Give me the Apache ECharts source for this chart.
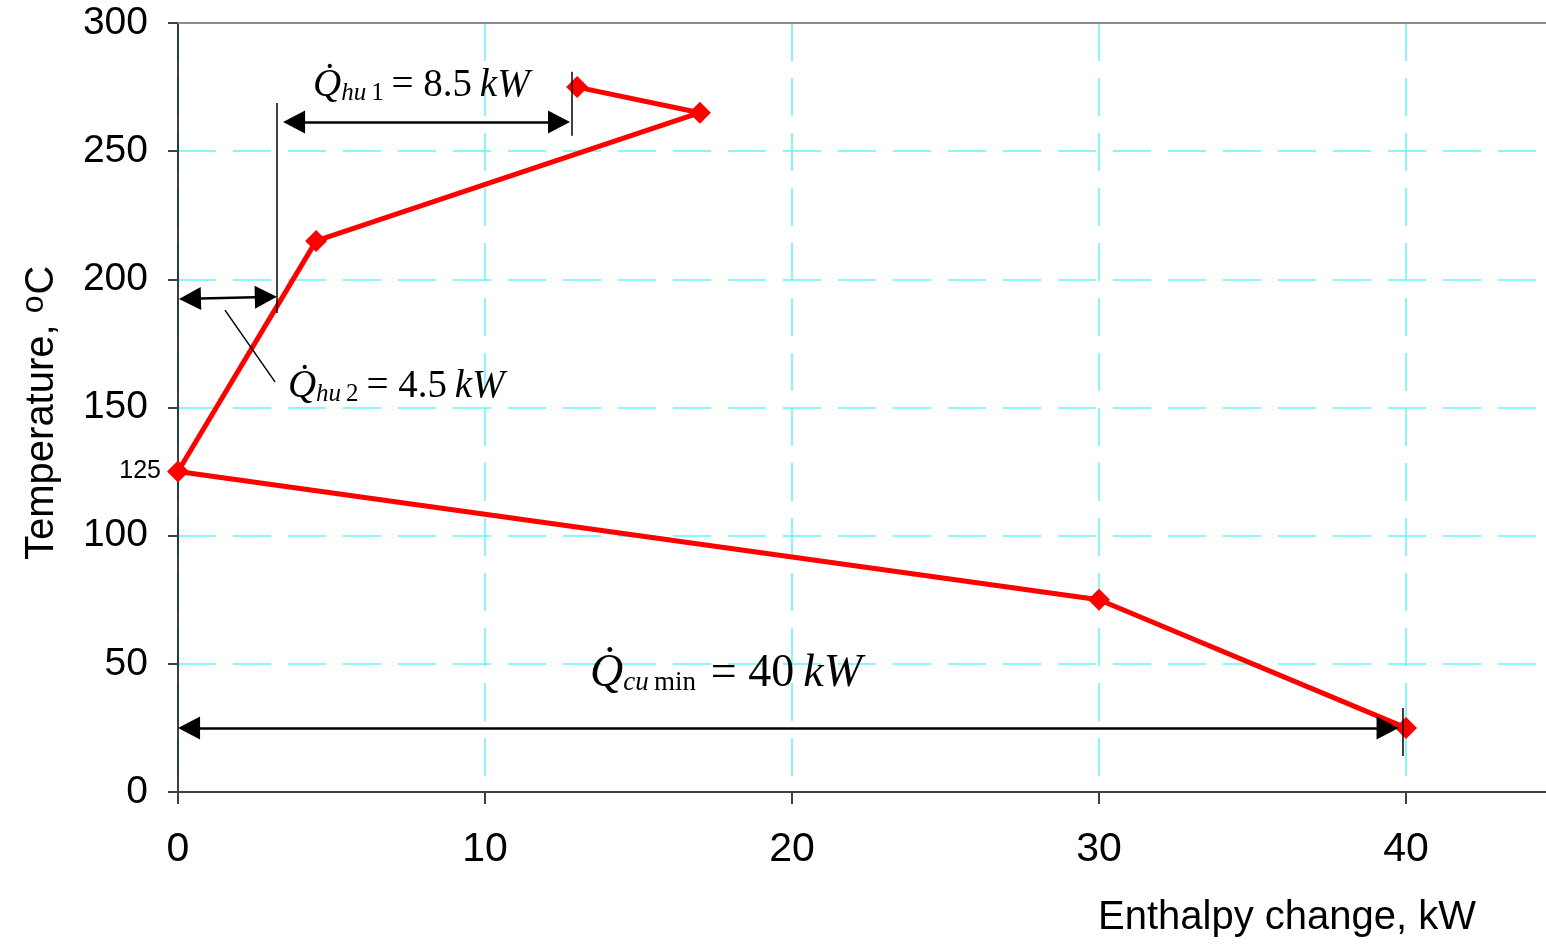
<!DOCTYPE html>
<html>
<head>
<meta charset="utf-8">
<script src="https://cdn.jsdelivr.net/npm/echarts@6/dist/echarts.min.js"></script>
<style>
  html, body { margin: 0; padding: 0; background: #fff; }
  #chart { width: 1546px; height: 944px; }
</style>
</head>
<body>
<div id="chart"></div>
<script>
// Grand composite curve: enthalpy change (kW) vs shifted temperature (°C)
const enthalpy    = [13, 17, 4.5, 0, 30, 40];
const temperature = [275, 265, 215, 125, 75, 25];

// Axis ticks
const xTickValues = [0, 10, 20, 30, 40];
const yTickValues = [0, 50, 100, 150, 200, 250, 300];
const pinchTemperature = 125;   // extra small label on the temperature axis
const yTop = 300;               // solid frame line along the top of the plot

// Utility loads
const hotUtility1 = 8.5;   // kW
const hotUtility2 = 4.5;   // kW
const coldUtility = 40;    // kW

// Annotation geometry (data units)
const hu1Arrow    = [[3.78, 261.4], [12.41, 261.4]];
const hu1BarLeft  = [[3.22, 268.8], [3.22, 186.9]];
const hu1BarRight = [[12.83, 281], [12.83, 256]];
const hu2Arrow    = [[0.39, 192.4], [2.86, 193.1]];
const hu2Leader   = [[1.53, 188], [3.16, 160]];
const cuArrow     = [[0.36, 25], [39.4, 25]];
const cuBar       = [[39.9, 32.8], [39.9, 14]];
const hu1LabelAt  = [4.40, 276];
const hu2LabelAt  = [3.58, 158.5];
const cuLabelAt   = [13.42, 47];

const serif = '"Liberation Serif", "Times New Roman", serif';
const sans  = '"Liberation Sans", Arial, sans-serif';

function richFor(main, sub, lh, subLh) {
  return {
    q: { fontFamily: serif, fontStyle: 'italic', fontSize: main, lineHeight: lh, color: '#000', verticalAlign: 'bottom' },
    s: { fontFamily: serif, fontStyle: 'italic', fontSize: sub, lineHeight: subLh, color: '#000', verticalAlign: 'bottom' },
    n: { fontFamily: serif, fontSize: sub, lineHeight: subLh, color: '#000', verticalAlign: 'bottom' },
    e: { fontFamily: serif, fontSize: main, lineHeight: lh, color: '#000', verticalAlign: 'bottom' },
    k: { fontFamily: serif, fontStyle: 'italic', fontSize: main, lineHeight: lh, color: '#000', verticalAlign: 'bottom' }
  };
}
const richHu = richFor(39, 25, 42, 17);
const richCu = richFor(46, 27, 50, 20);

function formula(sub, subNum, value) {
  return '{q|Q\u0307}{s|' + sub + '}{n|' + subNum + '}{e|\u2009= ' + value + '\u2009}{k|kW}';
}

function seg(pair, extra) {
  return [Object.assign({ coord: pair[0] }, extra || {}), { coord: pair[1] }];
}

const arrowLine = { color: '#000', width: 2.5, type: 'solid' };
const thinLine  = { color: '#000', width: 1.5, type: 'solid' };
const gridDash  = { color: '#66f4f4', width: 1.5, type: [38, 17] };

const option = {
  animation: false,
  backgroundColor: '#fff',
  grid: { left: 178, top: 23, right: 0, bottom: 152, containLabel: false },
  xAxis: [{
    type: 'value', min: 0, max: 44.56, interval: 10,
    axisLine: { show: true, onZero: false, lineStyle: { color: '#404040', width: 2 } },
    axisTick: { show: true, length: 12, lineStyle: { color: '#404040', width: 2 },
      customValues: xTickValues },
    axisLabel: { show: true, margin: 37, fontFamily: sans, fontSize: 41, color: '#000',
      customValues: xTickValues },
    splitLine: { show: true, lineStyle: gridDash }
  }],
  yAxis: [{
    type: 'value', min: 0, max: 300, interval: 50,
    axisLine: { show: true, onZero: false, lineStyle: { color: '#000', width: 1.5 } },
    axisTick: { show: true, length: 10, lineStyle: { color: '#404040', width: 2 } },
    axisLabel: { margin: 30, fontFamily: sans, fontSize: 39, color: '#000',
      formatter: v => yTickValues.includes(v) ? String(v) : '' },
    splitLine: { show: true, lineStyle: gridDash }
  }, {
    type: 'value', position: 'left', min: 0, max: 300, interval: 125,
    axisLine: { show: false }, axisTick: { show: false }, splitLine: { show: false },
    axisLabel: { margin: 17, fontFamily: sans, fontSize: 25, color: '#000',
      padding: [5, 0, 0, 0],
      showMaxLabel: false, showMinLabel: false,
      formatter: v => v === pinchTemperature ? String(v) : '' }
  }],
  graphic: [
    {
      type: 'text', x: 1098, y: 898,
      style: { text: 'Enthalpy change, kW', font: '40px ' + sans, fill: '#000' }
    },
    {
      type: 'text', x: 18, y: 560, rotation: Math.PI / 2,
      style: {
        text: '{a|Temperature, }{o|o}{a|C}', fill: '#000',
        rich: {
          a: { fontFamily: sans, fontSize: 40, lineHeight: 44, verticalAlign: 'bottom' },
          o: { fontFamily: sans, fontSize: 32, lineHeight: 44, verticalAlign: 'top', padding: [0, 1, 20, 0] }
        }
      }
    }
  ],
  series: [
    {
      name: 'frame', type: 'line', data: [], silent: true, z: 2,
      markLine: {
        silent: true, animation: false,
        symbol: ['none', 'none'],
        label: { show: false },
        lineStyle: { color: '#8c8c8c', width: 2, type: 'solid' },
        emphasis: { disabled: true },
        data: [ { yAxis: yTop } ]
      }
    },
    {
      name: 'GCC', type: 'line',
      data: enthalpy.map((x, i) => [x, temperature[i]]),
      lineStyle: { color: '#ff0000', width: 5 },
      itemStyle: { color: '#ff0000' },
      symbol: 'diamond', symbolSize: 22, showSymbol: true, z: 3
    },
    {
      name: 'annotations', type: 'line', data: [], silent: true, z: 4,
      markLine: {
        silent: true, animation: false,
        symbol: ['triangle', 'triangle'], symbolSize: [23, 22],
        label: { show: false },
        lineStyle: arrowLine,
        emphasis: { disabled: true },
        data: [ seg(hu1Arrow), seg(hu2Arrow), seg(cuArrow) ]
      }
    },
    {
      name: 'guides', type: 'line', data: [], silent: true, z: 4,
      markLine: {
        silent: true, animation: false,
        symbol: ['none', 'none'],
        label: { show: false },
        lineStyle: thinLine,
        emphasis: { disabled: true },
        data: [ seg(hu1BarLeft), seg(hu1BarRight), seg(cuBar), seg(hu2Leader) ]
      },
      markPoint: {
        silent: true, animation: false,
        symbol: 'circle', symbolSize: 0,
        label: { show: true, position: 'right', distance: 0 },
        data: [
          { coord: hu1LabelAt, label: { rich: richHu, formatter: formula('hu', '\u20091', hotUtility1) } },
          { coord: hu2LabelAt, label: { rich: richHu, formatter: formula('hu', '\u20092', hotUtility2) } },
          { coord: cuLabelAt,  label: { rich: richCu, formatter: formula('cu', '\u2009min\u2009', coldUtility) } }
        ]
      }
    }
  ]
};

const chart = echarts.init(document.getElementById('chart'), null, { renderer: 'canvas' });
chart.setOption(option);
</script>
</body>
</html>
